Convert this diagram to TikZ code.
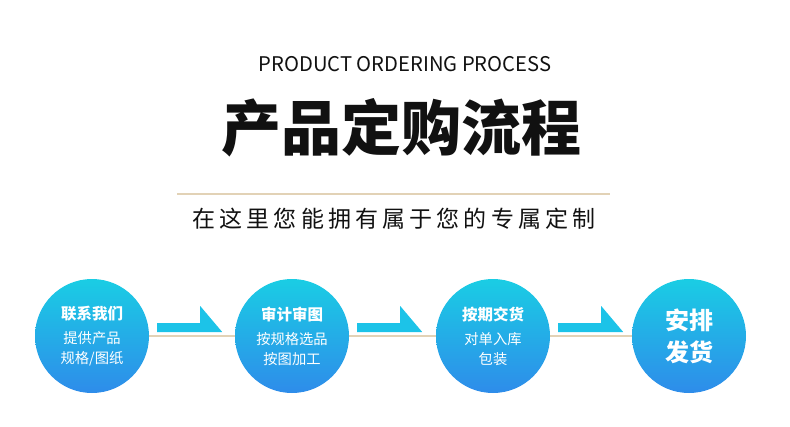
\documentclass[tikz,border=0pt]{standalone}
\usepackage{fontspec}
\setmainfont{Noto Sans CJK SC}
\usetikzlibrary{calc,backgrounds}
\definecolor{Cyan}{HTML}{1ACDE4}
\definecolor{Blue}{HTML}{2E8CEA}
\definecolor{Arrow}{HTML}{1CC3E8}
\definecolor{Tan}{HTML}{E2D2B6}
\definecolor{Ink}{HTML}{111111}

\begin{document}
\begin{tikzpicture}
[x=1pt,y=-1pt,
every node/.style={text=Ink,inner sep=0pt},
block/.style={circle,minimum size=114pt,align=center,text=white,top color=Cyan,
    bottom color=Blue,font=\fontsize{14.3}{19.5}\selectfont},
arrowfill/.style={fill=Arrow},
tanline/.style={Tan,line width=1.5pt}]
\useasboundingbox (0,0) rectangle (790,426);

%% heading
\node[font=\fontsize{20.2}{24}\selectfont] (en) at (405,64) {PRODUCT ORDERING PROCESS};
\node[font=\fontsize{60}{62}\selectfont\bfseries] (title) at (401,128) {产品定购流程};
\coordinate (l1) at (177,194);
\coordinate (l2) at (610,194);
\draw[tanline] (l1) -- (l2);
\node[font=\fontsize{23}{26}\selectfont\addfontfeature{LetterSpace=18}] (sub) at (394,219)
{在这里您能拥有属于您的专属定制};

%% steps
\node[block] (c1) at (92,336) {{\fontsize{15.5}{19}\selectfont\bfseries 联系我们}\\[5pt]
提供产品\\规格/图纸};
\node[block] (c2) at (292,336) {{\fontsize{15.5}{19}\selectfont\bfseries 审计审图}\\[5pt]
按规格选品\\按图加工};
\node[block] (c3) at (493,336) {{\fontsize{15.5}{19}\selectfont\bfseries 按期交货}\\[5pt]
对单入库\\包装};
\node[block,font=\fontsize{24}{32}\selectfont\bfseries] (c4) at (689,336) {安排\\发货};

%% links
\begin{scope}[on background layer]
\foreach \a/\b in {c1/c2,c2/c3,c3/c4}
  \draw[tanline] (\a) -- (\b);
\end{scope}
\foreach \a/\b in {c1/c2,c2/c3,c3/c4}
  \fill[arrowfill] ($(\a.east)+(8,-13)$) -- ++(43,0) -- ++(0,-17) -- ++(22,26)
    -- ++(-65,0) -- cycle;

\end{tikzpicture}
\end{document}
